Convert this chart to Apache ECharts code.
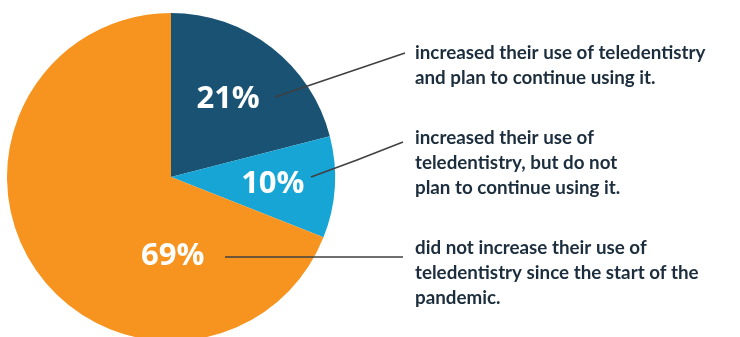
<!DOCTYPE html>
<html><head><meta charset="utf-8">
<script src="https://cdn.jsdelivr.net/npm/echarts@6.0.0/dist/echarts.min.js"></script>
<style>html,body{margin:0;padding:0;background:#fff}#c{width:740px;height:337px}</style>
</head><body><div id="c"></div>
<script>
// ---- data ----
const categories = ['Increased, will continue', 'Increased, will not continue', 'Did not increase'];
const values = [21, 10, 69];
const descriptions = [
  'increased their use of teledentistry\nand plan to continue using it.',
  'increased their use of\nteledentistry, but do not\nplan to continue using it.',
  'did not increase their use of\nteledentistry since the start of the\npandemic.'
];

// ---- styling / layout ----
const colors = ['#195272', '#17a5d5', '#f7941f'];
const pctOffsets = [[5, -11], [17, 2], [72, 31]];
const descTops = [40, 125, 235];
const descLeft = 415;
const leaders = [
  [[275, 97], [340, 75], [405, 53]],
  [[311, 177], [357, 160], [403, 142]],
  [[225, 257], [314, 257], [403, 257]]
];

const chart = echarts.init(document.getElementById('c'), null, {renderer: 'canvas'});
const center = [171, 177];
const radius = 164;

const mainData = categories.map((name, i) => ({
  name, value: values[i],
  itemStyle: {color: colors[i]},
  label: {offset: pctOffsets[i]}
}));
const descData = categories.map((name, i) => ({
  name, value: values[i]
}));

chart.setOption({
  animation: false,
  series: [
    {
      type: 'pie', center, radius, startAngle: 90, clockwise: true,
      silent: true, avoidLabelOverlap: false,
      itemStyle: {borderWidth: 0},
      label: {
        show: true, position: 'inside', formatter: '{c}%',
        color: '#ffffff', fontFamily: 'Open Sans', fontWeight: 'bold', fontSize: 31
      },
      labelLine: {show: false},
      data: mainData
    },
    {
      type: 'pie', center, radius, startAngle: 90, clockwise: true,
      silent: true, avoidLabelOverlap: false, z: 3,
      itemStyle: {color: 'rgba(0,0,0,0)', borderWidth: 0},
      label: {
        show: true, position: 'outside',
        formatter: p => descriptions[p.dataIndex],
        color: '#1c2e3d', fontFamily: 'Lato', fontWeight: 'bold', fontSize: 18.8,
        lineHeight: 25
      },
      labelLine: {show: true, lineStyle: {color: '#404040', width: 1.6}},
      labelLayout: p => ({
        x: descLeft, y: descTops[p.dataIndex],
        align: 'left', verticalAlign: 'top',
        labelLinePoints: leaders[p.dataIndex]
      }),
      data: descData
    }
  ]
});
</script></body></html>
